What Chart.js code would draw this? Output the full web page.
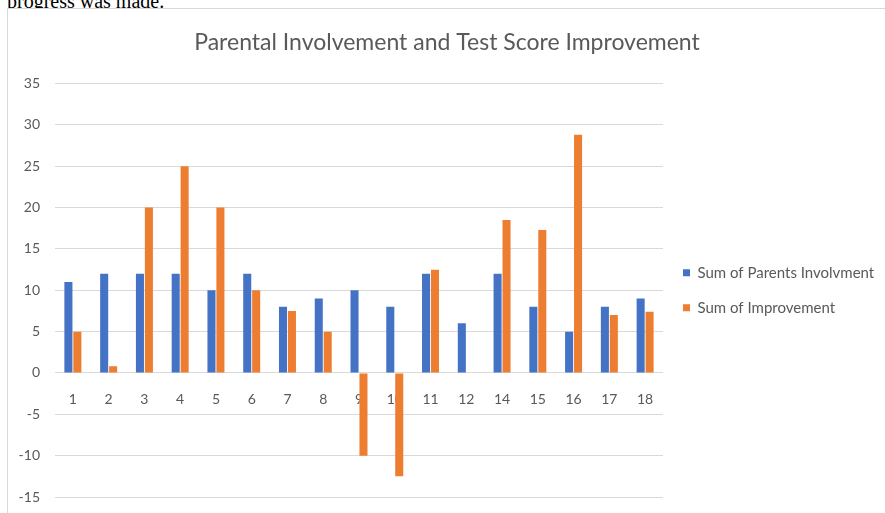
<!DOCTYPE html>
<html>
<head>
<meta charset="utf-8">
<script src="https://cdn.jsdelivr.net/npm/chart.js@4"></script>
<style>
  html, body { margin: 0; padding: 0; background: #fff; overflow: hidden; }
  body { width: 885px; height: 513px; position: relative; }
  .lead {
    position: absolute; left: 7px; top: -9px;
    font: 20px/20px "Liberation Serif", "DejaVu Serif", serif; color: #000;
    white-space: nowrap;
  }
  #frame {
    position: absolute; left: 7px; top: 8px; width: 885px; height: 515px;
    border: 1px solid #d9d9d9; box-sizing: border-box; background: #fff;
  }
</style>
</head>
<body>
<div class="lead">progress was made.</div>
<div id="frame"><canvas id="chart"></canvas></div>
<script>
// values
const categories = ['1', '2', '3', '4', '5', '6', '7', '8', '9', '10', '11', '12', '14', '15', '16', '17', '18'];
const parentsInvolvement = [11, 12, 12, 12, 10, 12, 8, 9, 10, 8, 12, 6, 12, 8, 5, 8, 9];
const improvement = [5, 0.8, 20, 25, 20, 10, 7.5, 5, -10, -12.5, 12.5, 0, 18.5, 17.3, 28.8, 7, 7.4];
const yTicks = [-15, -10, -5, 0, 5, 10, 15, 20, 25, 30, 35];

const textGrey = '#595959';
const gridGrey = '#d9d9d9';
const fontFamily = 'Lato, "Open Sans", sans-serif';

const ctx = document.getElementById('chart').getContext('2d');

new Chart(ctx, {
  type: 'bar',
  data: {
    labels: categories,
    datasets: [
      {
        label: 'Sum of Parents Involvment',
        data: parentsInvolvement,
        backgroundColor: '#4472c4',
        categoryPercentage: 0.5,
        barPercentage: 0.9
      },
      {
        label: 'Sum of Improvement',
        data: improvement,
        backgroundColor: '#ed7d31',
        categoryPercentage: 0.5,
        barPercentage: 0.9
      }
    ]
  },
  options: {
    responsive: true,
    maintainAspectRatio: false,
    animation: false,
    layout: { padding: { left: 7, right: 12, top: 0, bottom: 25 } },
    plugins: {
      title: {
        display: true,
        text: 'Parental Involvement and Test Score Improvement',
        color: textGrey,
        font: { family: fontFamily, size: 23, weight: 'normal' },
        padding: { top: 20, bottom: 27 }
      },
      legend: {
        position: 'right',
        fullSize: false,
        labels: {
          color: textGrey,
          font: { family: fontFamily, size: 15 },
          boxWidth: 7,
          boxHeight: 7,
          padding: 20
        }
      },
      tooltip: { enabled: false }
    },
    scales: {
      x: {
        position: { y: 0 },
        grid: { display: false, drawTicks: false },
        border: { display: false },
        ticks: {
          color: textGrey,
          font: { family: fontFamily, size: 14 },
          padding: 18,
          maxRotation: 0,
          autoSkip: false
        }
      },
      y: {
        min: yTicks[0],
        max: yTicks[yTicks.length - 1],
        afterFit: (scale) => { scale.width = 40; },
        afterBuildTicks: (scale) => { scale.ticks = yTicks.map(v => ({ value: v })); },
        grid: { color: gridGrey, lineWidth: 1, drawTicks: false },
        border: { display: false },
        ticks: {
          color: textGrey,
          font: { family: fontFamily, size: 14 },
          padding: 15
        }
      }
    }
  }
});
</script>
</body>
</html>
